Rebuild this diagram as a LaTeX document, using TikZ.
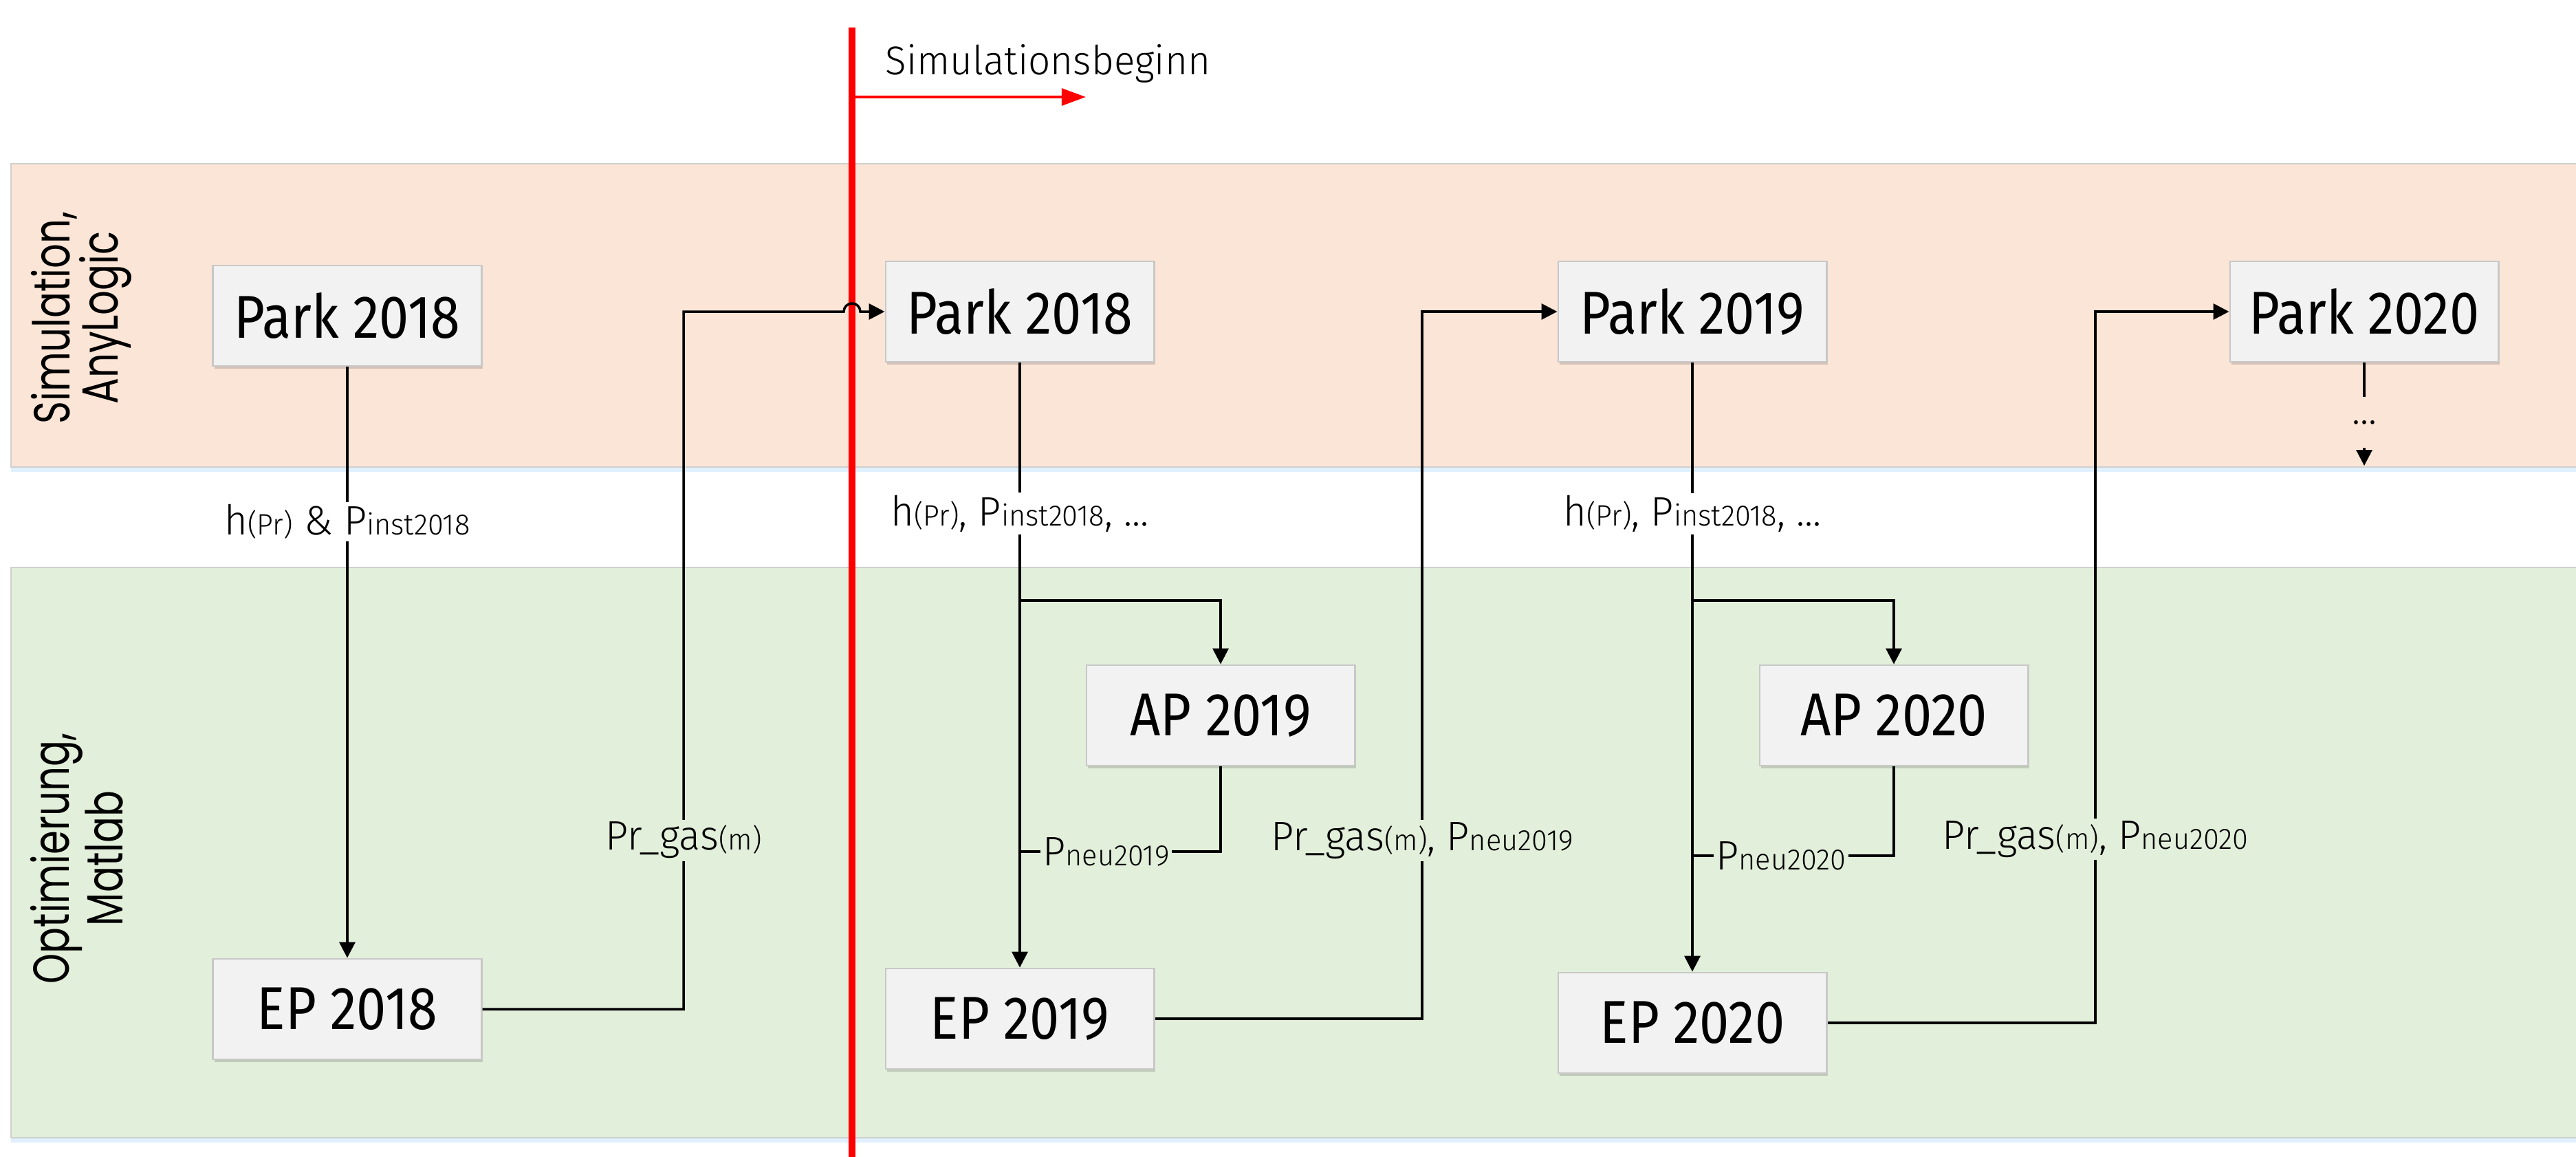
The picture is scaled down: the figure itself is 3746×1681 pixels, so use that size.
\documentclass[tikz,border=0pt]{standalone}
\usepackage{fontspec}
\setmainfont{Fira Sans}[FakeStretch=0.88]
\newfontfamily\thinfont{Fira Sans Light}[FakeStretch=0.97]
\newfontfamily\sidefont{Poppins}[FakeStretch=0.76]
\usetikzlibrary{arrows.meta,shadows}

\definecolor{simband}{HTML}{FBE5D6}
\definecolor{optband}{HTML}{E2EFDA}
\definecolor{boxfill}{HTML}{F2F2F2}
\definecolor{boxline}{HTML}{C8C8C8}
\definecolor{bandline}{HTML}{D0D0D0}

\newcommand{\sm}[1]{{\fontsize{12.2pt}{12pt}\selectfont #1}}

\tikzset{
	stepbox/.style={draw=boxline, line width=0.8pt, fill=boxfill,
		minimum width=3.9cm, minimum height=1.46cm,
		font=\fontsize{25pt}{26pt}\selectfont,
		drop shadow={shadow xshift=0.6pt, shadow yshift=-1.2pt, fill=black, opacity=0.15}},
	band/.style={draw=bandline, line width=0.8pt, fill=#1,
		drop shadow={shadow xshift=0pt, shadow yshift=-2pt, fill=blue!50!cyan, opacity=0.12}},
	sidelbl/.style={rotate=90, align=center, inner sep=0pt,
		font=\sidefont\fontsize{21pt}{19.9pt}\selectfont},
	lbl/.style={fill=#1, inner sep=1pt, font=\thinfont\fontsize{17pt}{18pt}\selectfont},
	lbl/.default=white,
	flow/.style={line width=1pt, -{Triangle[length=6.5pt,width=6.5pt]}},
	link/.style={line width=1pt},
	startline/.style={draw=red, line width=2.7pt},
	startarrow/.style={draw=red, line width=1.2pt, -{Triangle[length=10pt,width=7pt,fill=red]}}
}

\begin{document}
\begin{tikzpicture}[x=0.01cm, y=-0.01cm]
	\useasboundingbox (0,0) rectangle (3746,1681);

	% Baender
	\path[band=simband] (16,238) rectangle (3780,679);
	\path[band=optband] (16,825) rectangle (3780,1654);
	\node[sidelbl] (simlbl) at (118,462) {Simulation,\\AnyLogic};
	\node[sidelbl] (optlbl) at (112,1248) {Optimierung,\\Matlab};

	% Simulationsbeginn
	\coordinate (rtop) at (1239,40);
	\coordinate (rbot) at (1239,1700);
	\coordinate (rarr) at (1239,141);
	\coordinate (rtip) at (1579,141);
	\draw[startline] (rtop) -- (rbot);
	\draw[startarrow] (rarr) -- (rtip);
	\node[anchor=west, inner sep=0pt, font=\thinfont\fontsize{16.6pt}{18pt}\selectfont] (simbeg) at (1287,92) {Simulationsbeginn};

	% Kaesten
	\node[stepbox] (p18a) at (505,459) {Park 2018};
	\node[stepbox] (p18b) at (1483,453) {Park 2018};
	\node[stepbox] (p19) at (2461,453) {Park 2019};
	\node[stepbox] (p20) at (3438,453) {Park 2020};
	\node[stepbox] (ap19) at (1775,1040) {AP 2019};
	\node[stepbox] (ap20) at (2754,1040) {AP 2020};
	\node[stepbox] (ep18) at (505,1467) {EP 2018};
	\node[stepbox] (ep19) at (1483,1481) {EP 2019};
	\node[stepbox] (ep20) at (2461,1487) {EP 2020};

	% Hilfspunkte
	\coordinate (g18) at (994,453);
	\coordinate (hop) at (1227,453);
	\coordinate (g19) at (2068,453);
	\coordinate (g20) at (3047,453);
	\coordinate (b19) at (1483,873);
	\coordinate (b20) at (2461,873);
	\coordinate (r19) at (1483,1238);
	\coordinate (r20) at (2461,1244);
	\coordinate (e20) at (3438,677);

	% 2018
	\path[flow]
	(p18a.south) edge node[lbl, pos=0.262] {h\sm{(Pr)} \& P\sm{inst2018}} (ep18.north);
	\draw[flow] (ep18.east) -| node[lbl=optband, pos=0.621] {Pr\_gas\sm{(m)}} (g18)
		-- (hop) arc[start angle=180, end angle=360, radius=12] -- (p18b.west);

	% 2019
	\path[flow]
	(p18b.south) edge node[lbl, pos=0.249] {h\sm{(Pr)}, P\sm{inst2018}, ...} (ep19.north);
	\draw[flow] (b19) -| (ap19.north);
	\draw[link] (ap19.south) |- node[lbl=optband, pos=0.785] {P\sm{neu2019}} (r19);
	\draw[flow] (ep19.east) -| node[lbl=optband, pos=0.626] {Pr\_gas\sm{(m)}, P\sm{neu2019}} (g19) -- (p19.west);

	% 2020
	\path[flow]
	(p19.south) edge node[lbl, pos=0.248] {h\sm{(Pr)}, P\sm{inst2018}, ...} (ep20.north);
	\draw[flow] (b20) -| (ap20.north);
	\draw[link] (ap20.south) |- node[lbl=optband, pos=0.78] {P\sm{neu2020}} (r20);
	\draw[flow] (ep20.east) -| node[lbl=optband, pos=0.629] {Pr\_gas\sm{(m)}, P\sm{neu2020}} (g20) -- (p20.west);
	\draw[flow] (p20.south) -- node[lbl=simband, pos=0.58, minimum height=21pt] {...} (e20);
\end{tikzpicture}
\end{document}
